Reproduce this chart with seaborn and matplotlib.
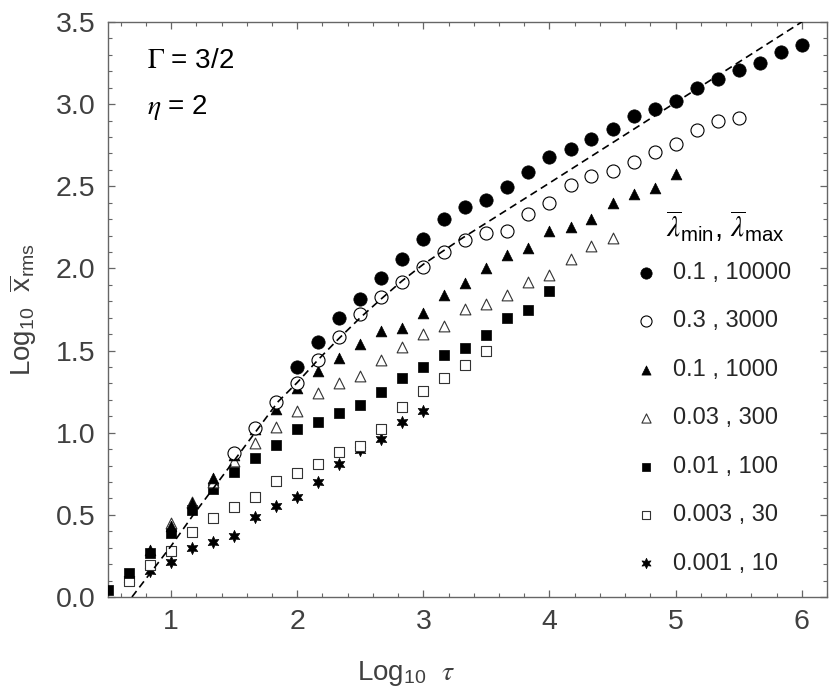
import matplotlib
matplotlib.use("Agg")
import matplotlib.pyplot as plt
import seaborn as sns
import pandas as pd
from matplotlib.ticker import MultipleLocator

# ---------------- data ----------------
labels = ["0.1 , 10000", "0.3 , 3000", "0.1 , 1000", "0.03 , 300",
          "0.01 , 100", "0.003 , 30", "0.001 , 10"]
legend_title = r"$\overline{\lambda}_{\mathregular{min}}$, $\overline{\lambda}_{\mathregular{max}}$"

x_c_filled = [2.0, 2.167, 2.333, 2.5, 2.667, 2.833, 3.0, 3.167, 3.333, 3.5, 3.667, 3.833,
              4.0, 4.167, 4.333, 4.5, 4.667, 4.833, 5.0, 5.167, 5.333, 5.5, 5.667, 5.833, 6.0]
y_c_filled = [1.40, 1.55, 1.70, 1.815, 1.94, 2.06, 2.18, 2.30, 2.375, 2.415, 2.495, 2.585,
              2.675, 2.725, 2.785, 2.85, 2.93, 2.97, 3.02, 3.095, 3.155, 3.21, 3.25, 3.315, 3.36]

x_c_open = [1.5, 1.667, 1.833, 2.0, 2.167, 2.333, 2.5, 2.667, 2.833, 3.0, 3.167, 3.333,
            3.5, 3.667, 3.833, 4.0, 4.167, 4.333, 4.5, 4.667, 4.833, 5.0, 5.167, 5.333, 5.5]
y_c_open = [0.876, 1.03, 1.185, 1.30, 1.445, 1.585, 1.72, 1.825, 1.92, 2.01, 2.10, 2.175,
            2.215, 2.23, 2.33, 2.40, 2.51, 2.56, 2.595, 2.645, 2.71, 2.76, 2.84, 2.90, 2.915]

x_t_filled = [0.833, 1.0, 1.167, 1.333, 1.5, 1.667, 1.833, 2.0, 2.167, 2.333, 2.5, 2.667, 2.833,
              3.0, 3.167, 3.333, 3.5, 3.667, 3.833, 4.0, 4.167, 4.333, 4.5, 4.667, 4.833, 5.0]
y_t_filled = [0.285, 0.43, 0.57, 0.725, 0.865, 1.025, 1.145, 1.27, 1.375, 1.455, 1.54, 1.62, 1.64,
              1.73, 1.84, 1.91, 2.00, 2.08, 2.125, 2.23, 2.25, 2.30, 2.40, 2.45, 2.49, 2.575]

x_t_open = [1.0, 1.167, 1.333, 1.5, 1.667, 1.833, 2.0, 2.167, 2.333, 2.5, 2.667, 2.833,
            3.0, 3.167, 3.333, 3.5, 3.667, 3.833, 4.0, 4.167, 4.333, 4.5]
y_t_open = [0.45, 0.58, 0.70, 0.825, 0.935, 1.035, 1.135, 1.24, 1.30, 1.347, 1.445, 1.52,
            1.60, 1.65, 1.75, 1.785, 1.84, 1.92, 1.96, 2.06, 2.135, 2.185]

x_s_filled = [0.5, 0.667, 0.833, 1.0, 1.167, 1.333, 1.5, 1.667, 1.833, 2.0, 2.167, 2.333,
              2.5, 2.667, 2.833, 3.0, 3.167, 3.333, 3.5, 3.667, 3.833, 4.0]
y_s_filled = [0.043, 0.145, 0.27, 0.39, 0.53, 0.655, 0.762, 0.848, 0.925, 1.025, 1.063, 1.12,
              1.17, 1.245, 1.33, 1.40, 1.475, 1.515, 1.595, 1.70, 1.745, 1.86]

x_s_open = [0.667, 0.833, 1.0, 1.167, 1.333, 1.5, 1.667, 1.833, 2.0, 2.167, 2.333, 2.5,
            2.667, 2.833, 3.0, 3.167, 3.333, 3.5]
y_s_open = [0.098, 0.195, 0.28, 0.394, 0.48, 0.547, 0.607, 0.705, 0.754, 0.81, 0.88, 0.92,
            1.025, 1.155, 1.256, 1.333, 1.415, 1.496]

x_star = [0.667, 0.833, 1.0, 1.167, 1.333, 1.5, 1.667, 1.833, 2.0, 2.167, 2.333, 2.5,
          2.667, 2.833, 3.0]
y_star = [0.11, 0.16, 0.215, 0.30, 0.337, 0.372, 0.488, 0.553, 0.61, 0.70, 0.81, 0.896,
          0.96, 1.063, 1.134]

# dashed reference curve
x_dash = [0.69, 1.0, 1.167, 1.5, 1.85, 2.0, 2.167, 2.333, 2.5, 2.667, 2.833, 3.0, 3.3, 4.0, 5.0, 6.0, 6.2]
y_dash = [0.0, 0.31, 0.49, 0.83, 1.19, 1.305, 1.445, 1.575, 1.70, 1.815, 1.925, 2.025, 2.18, 2.52, 3.01, 3.50, 3.60]

# ---------------- style ----------------
sns.set_theme(style="ticks")
plt.rcParams['font.family'] = ['Liberation Sans', 'DejaVu Sans']
plt.rcParams['mathtext.fontset'] = 'stix'

GRAY = "#404040"
SPINE = "#666666"

fig = plt.figure(figsize=(8.3, 6.97), dpi=100)
ax = fig.add_axes([0.1301, 0.1435, 0.8663, 0.825])

series = [
    (x_c_filled, y_c_filled, "o", 92, "black", "black", 0.5),
    (x_c_open, y_c_open, "o", 88, "white", "black", 0.8),
    (x_t_filled, y_t_filled, "^", 60, "black", "black", 0.5),
    (x_t_open, y_t_open, "^", 60, "white", "#333333", 0.8),
    (x_s_filled, y_s_filled, "s", 48, "black", "black", 0.5),
    (x_s_open, y_s_open, "s", 48, "white", "#333333", 0.8),
    (x_star, y_star, (6, 1, 0), 78, "black", "black", 0.5),
]

dash_df = pd.DataFrame({"x": x_dash, "y": y_dash})
sns.lineplot(data=dash_df, x="x", y="y", ax=ax, color="black", lw=1.2,
             linestyle=(0, (4.5, 2.8)), sort=False, estimator=None, zorder=4)

for i, (xs, ys, m, s, fc, ec, lw) in enumerate(series):
    df = pd.DataFrame({"x": xs, "y": ys})
    sns.scatterplot(data=df, x="x", y="y", ax=ax, marker=m, s=s, color=fc,
                    edgecolor=ec, linewidth=lw, label=labels[i], zorder=3 + (7 - i) * 0.01)

ax.set_xlim(0.5, 6.2)
ax.set_ylim(0.0, 3.5)
ax.xaxis.set_minor_locator(MultipleLocator(0.2))
ax.yaxis.set_minor_locator(MultipleLocator(0.1))
ax.set_yticks([0, 0.5, 1, 1.5, 2, 2.5, 3, 3.5])
ax.set_yticklabels(["0.0", "0.5", "1.0", "1.5", "2.0", "2.5", "3.0", "3.5"])
ax.set_xticks([1, 2, 3, 4, 5, 6])
ax.set_xticklabels(["1", "2", "3", "4", "5", "6"])

ax.tick_params(which="both", direction="in", top=True, right=True, color=SPINE,
               labelcolor=GRAY, labelsize=20.5)
ax.tick_params(which="major", length=5, width=0.9, pad=9)
ax.tick_params(which="minor", length=2.6, width=0.8)
for sp in ax.spines.values():
    sp.set_color(SPINE)
    sp.set_linewidth(1.0)

ax.set_xlabel(r"Log$_{\mathregular{10}}$  $\tau$", fontsize=20, color=GRAY)
ax.xaxis.set_label_coords(0.415, -0.108)
ax.set_ylabel(r"Log$_{\mathregular{10}}$  $\overline{\mathregular{x}}_{\mathregular{rms}}$", fontsize=20,
              color=GRAY, labelpad=12)

ax.text(0.054, 0.932, r"$\Gamma$ = 3/2", transform=ax.transAxes, fontsize=20,
        va="center", ha="left", color="black")
ax.text(0.054, 0.851, r"$\eta$ = 2", transform=ax.transAxes, fontsize=20,
        va="center", ha="left", color="black")

leg = ax.legend(loc="upper left", bbox_to_anchor=(632 / 830, 1 - 262 / 697),
                bbox_transform=fig.transFigure, frameon=False, fontsize=17,
                markerscale=0.85, handletextpad=0.55,
                labelspacing=1.12, borderpad=0, borderaxespad=0, handlelength=1.2)
fig.text(725 / 830, 1 - 226 / 697, legend_title, ha="center", va="center",
         fontsize=21, color="black")

fig.savefig("out.png", dpi=100)
